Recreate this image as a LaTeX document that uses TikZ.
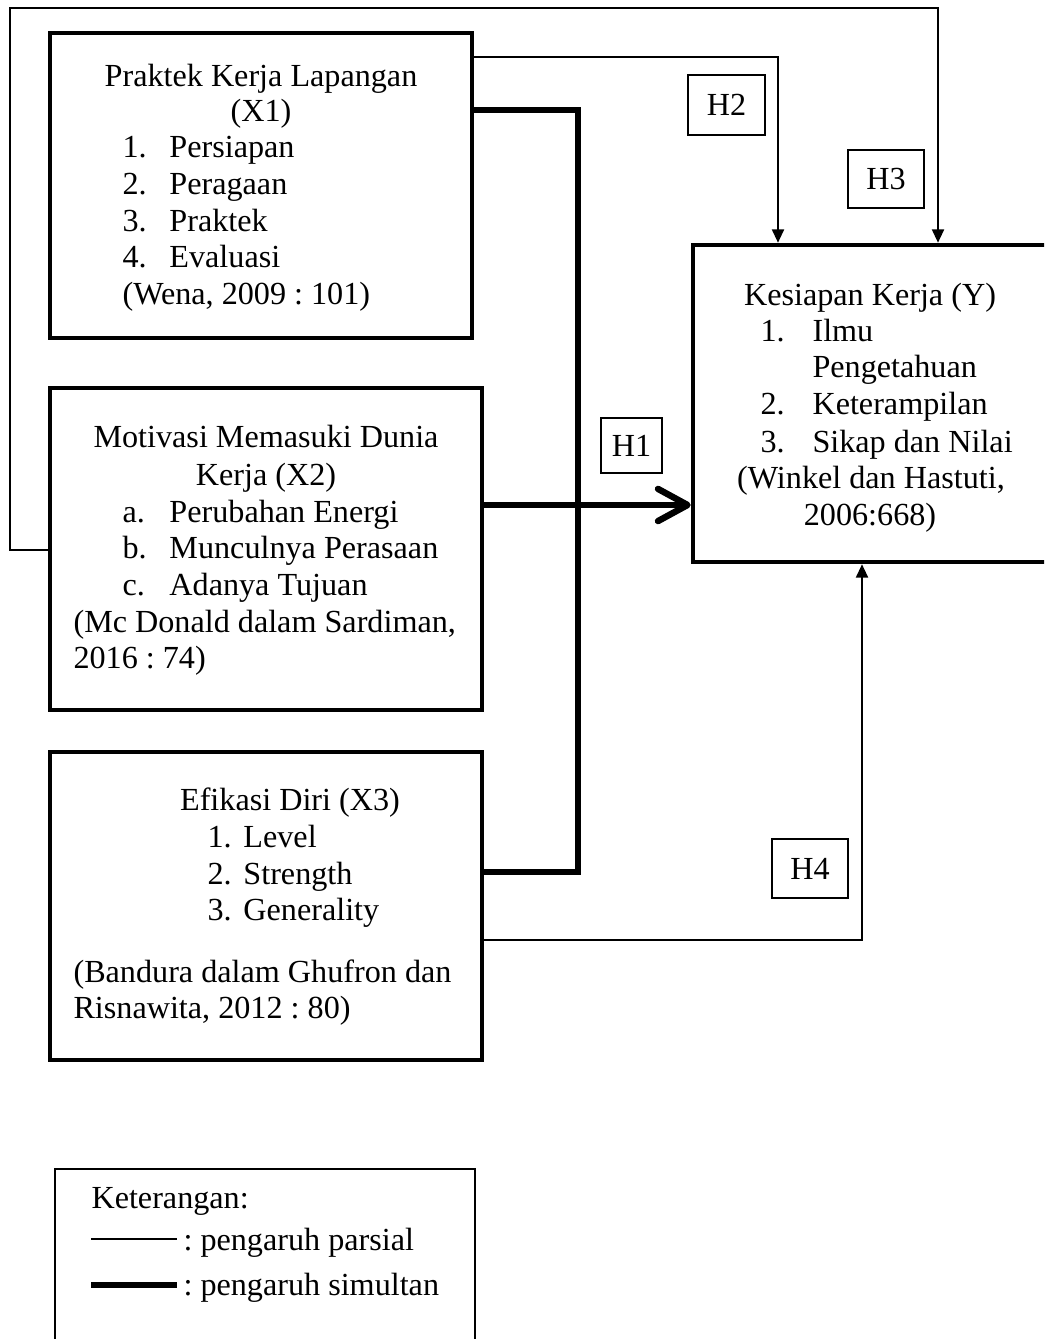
\documentclass[tikz,border=0pt]{standalone}
\usepackage{fontspec}
\setmainfont{Liberation Serif}
\frenchspacing
\usetikzlibrary{arrows.meta,positioning,fit}
\tikzset{
  vbox/.style={draw, line width=1.7pt, inner sep=0pt},
  hbox/.style={draw, line width=0.5pt, inner sep=0pt},
  txt/.style={inner sep=0pt, anchor=base west,
              font=\fontsize{12}{13.8}\selectfont},
  txtc/.style={txt, anchor=base},
  hlabel/.style={txt, anchor=center},
  part/.style={line width=0.75pt, -{Triangle[length=5pt,width=4.5pt]}},
  simul/.style={line width=2.4pt},
  simularrow/.style={simul, -{Straight Barb[length=11pt,width=12pt,line width=2.4pt,round]}},
}
\newcommand{\itemnum}[2]{\makebox[#1][l]{#2}}

\begin{document}
\begin{tikzpicture}[x=0.373pt, y=-0.373pt]
  \useasboundingbox (0,0) rectangle (1044,1339);
  \clip (0,0) rectangle (1044,1339);
  % variable boxes
  \node[vbox, fit={(50,33) (472,338)}] (x1) {};
  \node[vbox, fit={(50,388) (482,710)}] (x2) {};
  \node[vbox, fit={(50,752) (482,1060)}] (x3) {};
  \node[vbox, fit={(693,245) (1075,562)}] (y) {};
  % X1
  \node[txtc] (x1a) at (261,87) {Praktek Kerja Lapangan};
  \node[txtc] (x1b) at (261,122) {(X1)};
  \node[txt] (x1c) at (122,158) {\itemnum{17.5pt}{1.}Persiapan};
  \node[txt] (x1d) at (122,195) {\itemnum{17.5pt}{2.}Peragaan};
  \node[txt] (x1e) at (122,232) {\itemnum{17.5pt}{3.}Praktek};
  \node[txt] (x1f) at (122,268) {\itemnum{17.5pt}{4.}Evaluasi};
  \node[txt] (x1g) at (122,305) {(Wena, 2009 : 101)};
  % X2
  \node[txtc] (x2a) at (266,448) {Motivasi Memasuki Dunia};
  \node[txtc] (x2b) at (266,485) {Kerja (X2)};
  \node[txt] (x2c) at (122,522) {\itemnum{17.5pt}{a.}Perubahan Energi};
  \node[txt] (x2d) at (122,558) {\itemnum{17.5pt}{b.}Munculnya Perasaan};
  \node[txt] (x2e) at (122,595) {\itemnum{17.5pt}{c.}Adanya Tujuan};
  \node[txt] (x2f) at (73,632) {(Mc Donald dalam Sardiman,};
  \node[txt] (x2g) at (73,668) {2016 : 74)};
  % X3
  \node[txtc] (x3a) at (290,810) {Efikasi Diri (X3)};
  \node[txt] (x3b) at (207,847) {\itemnum{13.4pt}{1.}Level};
  \node[txt] (x3c) at (207,884) {\itemnum{13.4pt}{2.}Strength};
  \node[txt] (x3d) at (207,920) {\itemnum{13.4pt}{3.}Generality};
  \node[txt] (x3e) at (73,982) {(Bandura dalam Ghufron dan};
  \node[txt] (x3f) at (73,1018) {Risnawita, 2012 : 80)};
  % Y
  \node[txtc] (ya) at (870,306) {Kesiapan Kerja (Y)};
  \node[txt] (yb) at (760,342) {\itemnum{19.4pt}{1.}Ilmu};
  \node[txt] (yc) at (812,378) {Pengetahuan};
  \node[txt] (yd) at (760,415) {\itemnum{19.4pt}{2.}Keterampilan};
  \node[txt] (ye) at (760,452) {\itemnum{19.4pt}{3.}Sikap dan Nilai};
  \node[txtc] (yf) at (871,488) {(Winkel dan Hastuti,};
  \node[txtc] (yg) at (870,525) {2006:668)};
  % hypothesis labels
  \node[hbox, fit={(601,418) (662,473)}] (h1) {};
  \node[hbox, fit={(688,75) (765,135)}] (h2) {};
  \node[hbox, fit={(848,150) (924,208)}] (h3) {};
  \node[hbox, fit={(772,839) (848,898)}] (h4) {};
  \node[hlabel] (h1t) at (h1.center) {H1};
  \node[hlabel] (h2t) at (h2.center) {H2};
  \node[hlabel] (h3t) at (h3.center) {H3};
  \node[hlabel] (h4t) at (h4.center) {H4};
  % partial paths
  \coordinate (c2) at (778,57);
  \draw[part] (x1.east |- c2) -- (c2) -- (y.north -| c2);
  \coordinate (c3a) at (10,550);
  \coordinate (c3b) at (10,8);
  \coordinate (c3c) at (938,8);
  \draw[part] (x2.west |- c3a) -- (c3a) -- (c3b) -- (c3c) -- (y.north -| c3c);
  \coordinate (c4) at (862,940);
  \draw[part] (x3.east |- c4) -- (c4) -- (y.south -| c4);
  % simultaneous path
  \coordinate (c1a) at (578,110);
  \coordinate (c1b) at (578,872);
  \draw[simul] (x1.east |- c1a) -- (c1a) -- (c1b) -- (x3.east |- c1b);
  \coordinate (c1c) at (0,505);
  \draw[simularrow] (x2.east |- c1c) -- (y.west |- c1c);
  % legend
  \node[draw, line width=0.6pt, inner sep=0pt, fit={(55,1169) (475,1360)}] (leg) {};
  \node[txt] (k1) at (91,1208) {Keterangan:};
  \node[txt] (k2) at (183,1250) {: pengaruh parsial};
  \node[txt] (k3) at (183,1295) {: pengaruh simultan};
  \draw[line width=0.75pt] (91,1239) -- (177,1239);
  \draw[simul] (91,1285) -- (177,1285);
\end{tikzpicture}
\end{document}
